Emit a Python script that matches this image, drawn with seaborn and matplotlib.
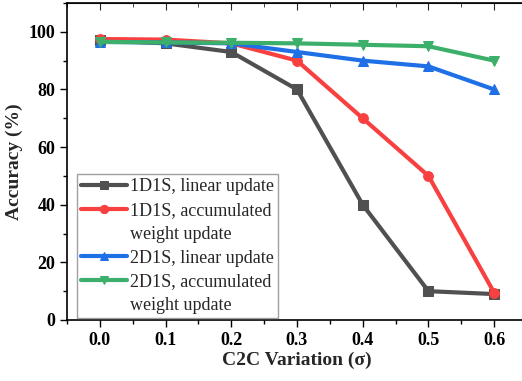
import matplotlib
matplotlib.use("Agg")
import matplotlib.pyplot as plt
from matplotlib.lines import Line2D
import seaborn as sns
import pandas as pd
from matplotlib.ticker import MultipleLocator

sigma = [0.0, 0.1, 0.2, 0.3, 0.4, 0.5, 0.6]
d1_linear = [97.0, 96.0, 93.0, 80.0, 40.0, 10.0, 9.0]
d1_accum = [97.5, 97.3, 96.0, 90.0, 70.0, 50.0, 9.5]
d2_linear = [96.5, 96.3, 96.0, 93.0, 90.0, 88.0, 80.0]
d2_accum = [96.5, 96.3, 96.2, 96.0, 95.5, 95.0, 90.0]
labels = ["1D1S, linear update", "1D1S, accumulated\nweight update",
          "2D1S, linear update", "2D1S, accumulated\nweight update"]
colors = ["#505050", "#f84040", "#1f6fe6", "#3cb06a"]
markers = ["s", "o", "^", "v"]

sns.set_style("ticks")
plt.rcParams['font.family'] = ['Liberation Serif', 'DejaVu Serif']
plt.rcParams['mathtext.fontset'] = 'stix'

fig = plt.figure(figsize=(5.22, 3.81), dpi=100)
ax = fig.add_axes([67/522, 61/381, 460/522, 317/381])

for ys, lab, c, m in zip([d1_linear, d1_accum, d2_linear, d2_accum], labels, colors, markers):
    df = pd.DataFrame({"x": sigma, "y": ys})
    sns.lineplot(data=df, x="x", y="y", ax=ax, color=c, marker=m, markersize=7,
                 linewidth=3, markeredgecolor=c, label=lab, legend=False)

ax.set_xlim(-0.05, 0.65)
ax.set_ylim(0, 110)
ax.xaxis.set_major_locator(MultipleLocator(0.1))
ax.xaxis.set_minor_locator(MultipleLocator(0.05))
ax.yaxis.set_major_locator(MultipleLocator(20))
ax.yaxis.set_minor_locator(MultipleLocator(10))
ax.set_xticks(sigma)
ax.set_xticklabels([f"{v:.1f}" for v in sigma])
ax.tick_params(which='both', direction='out', width=1, colors='black',
               labelsize=13, top=False, right=False)
ax.tick_params(which='major', length=5)
ax.tick_params(which='minor', length=3)
for lbl in ax.get_xticklabels() + ax.get_yticklabels():
    lbl.set_fontweight('bold')
# mirrored ticks pointing inward
ax2 = ax.secondary_xaxis('top')
ax2.xaxis.set_major_locator(MultipleLocator(0.1))
ax2.xaxis.set_minor_locator(MultipleLocator(0.05))
ax2.tick_params(which='both', direction='in', labeltop=False)
ax2.tick_params(which='major', length=5)
ax2.tick_params(which='minor', length=3)
ay2 = ax.secondary_yaxis('right')
ay2.yaxis.set_major_locator(MultipleLocator(20))
ay2.yaxis.set_minor_locator(MultipleLocator(10))
ay2.tick_params(which='both', direction='in', labelright=False)

for s in ax.spines.values():
    s.set_visible(True)
    s.set_linewidth(1.2)
    s.set_color('black')

ax.set_xlabel("C2C Variation (σ)", fontsize=14, fontweight='bold', labelpad=2)
ax.set_ylabel("Accuracy (%)", fontsize=14, fontweight='bold', labelpad=4)

# legend: first line of each label next to its handle, continuation lines without handle
lines = ax.get_lines()[:4]
leg_handles, leg_labels = [], []
for ln, lab in zip(lines, labels):
    parts = lab.split("\n")
    leg_handles.append(ln)
    leg_labels.append(parts[0])
    for extra in parts[1:]:
        leg_handles.append(Line2D([], [], color='none', marker=None))
        leg_labels.append(extra)

leg = ax.legend(leg_handles, leg_labels, loc='lower left',
                bbox_to_anchor=(10/460, 2/317), borderaxespad=0,
                fontsize=13, frameon=True, fancybox=False, edgecolor='#888888',
                handlelength=2.55, borderpad=0.2, labelspacing=0.38,
                handletextpad=0.2, markerscale=0.85)
leg.get_frame().set_linewidth(1.0)

fig.savefig("out.png", dpi=100)
